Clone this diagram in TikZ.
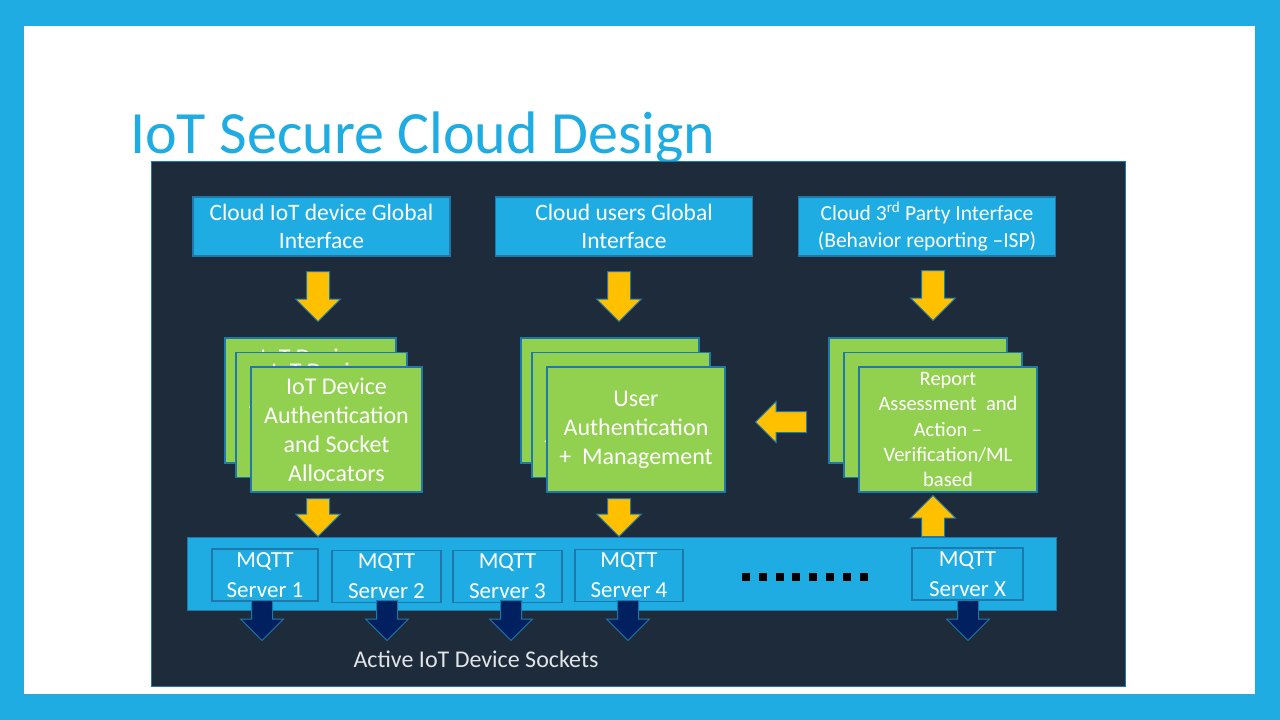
\documentclass[tikz,border=0pt]{standalone}
\usepackage{fontspec}
\setmainfont{Carlito}
\usepackage{xcolor}
\usetikzlibrary{shapes.arrows}
\definecolor{skyblue}{RGB}{30,172,226}
\definecolor{panel}{RGB}{29,43,58}
\definecolor{leafgreen}{RGB}{146,208,80}
\definecolor{gold}{RGB}{255,192,0}
\definecolor{navy}{RGB}{0,32,96}
\definecolor{edgeblue}{RGB}{31,120,170}
\definecolor{sockgray}{RGB}{225,228,232}

\begin{document}
\begin{tikzpicture}[
    x=1pt, y=-1pt,
    box/.style={draw=edgeblue, line width=1.5pt, text=white, align=center, inner sep=0pt},
    topbox/.style={box, fill=skyblue, minimum width=257pt, minimum height=59pt, font=\fontsize{23.5}{28}\selectfont},
    greenbox/.style={box, fill=leafgreen, minimum height=125pt, font=\fontsize{24}{29}\selectfont},
    srvbox/.style={box, fill=skyblue, minimum height=52pt, font=\fontsize{23}{30}\selectfont},
    goldarrow/.style={single arrow, draw=edgeblue, fill=gold, line width=1pt, inner xsep=0pt, inner ysep=11pt,
        single arrow head extend=11pt, anchor=tail},
    sockarrow/.style={single arrow, draw=edgeblue, fill=navy, line width=1pt, inner xsep=0pt, inner ysep=10pt,
        single arrow head extend=11pt, minimum height=40pt, rotate=-90, anchor=tail}
]

% Frame :
\fill[skyblue] (0,0) rectangle (1280,720);
\fill[white] (24,26) rectangle (1255,694);
\node[anchor=base west, text=skyblue, font=\fontsize{60}{66}\selectfont, inner sep=0pt] (title) at (130,153) {IoT Secure Cloud Design};
\draw[edgeblue, fill=panel, line width=1pt] (151,161) rectangle (1125,686);

% Interfaces :
\node[topbox] (devif) at (321.5,226.5) {Cloud IoT device Global\\Interface};
\node[topbox] (userif) at (624,226.5) {Cloud users Global\\Interface};
\node[topbox, font=\fontsize{21.5}{27}\selectfont] (partyif) at (927,226.5) {Cloud 3\textsuperscript{rd} Party Interface\\(Behavior reporting --ISP)};

% Green stacks :
\node[greenbox, minimum width=171pt] (devA) at (310.5,400.5) {IoT Device\\Authentication\\and Socket\\Allocators};
\node[greenbox, minimum width=171pt] (devB) at (321.5,415) {IoT Device\\Authentication\\and Socket\\Allocators};
\node[greenbox, minimum width=171pt] (devC) at (336.5,429.5) {IoT Device\\Authentication\\and Socket\\Allocators};

\node[greenbox, minimum width=178pt] (userA) at (610,400.5) {User\\Authentication\\+ \ Management};
\node[greenbox, minimum width=178pt] (userB) at (621,415) {User\\Authentication\\+ \ Management};
\node[greenbox, minimum width=178pt] (userC) at (636,429.5) {User\\Authentication\\+ \ Management};

\node[greenbox, minimum width=178pt] (repA) at (918,400.5) {};
\node[greenbox, minimum width=178pt] (repB) at (933,415) {};
\node[greenbox, minimum width=178pt] (repC) at (948,429.5) {};
\node[text=white, align=center, font=\fontsize{20.5}{25.3}\selectfont] (reptext) at (repC) {Report\\Assessment \ and\\Action --\\Verification/ML\\based};

% MQTT bar :
\draw[edgeblue, fill=skyblue, line width=1pt] (187,537) rectangle (1056,610);
\node[srvbox, minimum width=106pt] (srv1) at (265,575) {MQTT\\Server 1};
\node[srvbox, minimum width=109pt] (srv2) at (386.5,576.5) {MQTT\\Server 2};
\node[srvbox, minimum width=109pt] (srv3) at (507.5,576.5) {MQTT\\Server 3};
\node[srvbox, minimum width=108pt] (srv4) at (629,575.5) {MQTT\\Server 4};
\node[srvbox, minimum width=111pt] (srvX) at (967.5,574) {MQTT\\Server X};
\foreach \i in {0,...,7}
    \fill[black] (742+\i*16.8,573) rectangle ++(8,8);

% Gold arrows :
\node[goldarrow, minimum height=50pt, rotate=-90] (a1) at (318,271) {};
\node[goldarrow, minimum height=50pt, rotate=-90] (a2) at (619,271) {};
\node[goldarrow, minimum height=50pt, rotate=-90] (a3) at (933,270) {};
\node[goldarrow, minimum height=38pt, rotate=-90] (a4) at (318,498) {};
\node[goldarrow, minimum height=38pt, rotate=-90] (a5) at (619,498) {};
\node[goldarrow, minimum height=41pt, rotate=90] (a6) at (933,537) {};
\node[goldarrow, minimum height=51pt, rotate=180, inner ysep=10pt, single arrow head extend=10pt] (a7) at (807,422) {};

% Socket arrows :
\foreach \x/\n in {262/1, 387/2, 511/3, 628/4, 968/X}
    \node[sockarrow] (s\n) at (\x,600) {};
\node[text=sockgray, font=\fontsize{24}{28}\selectfont] (sockets) at (476,659) {Active IoT Device Sockets};

\end{tikzpicture}
\end{document}
